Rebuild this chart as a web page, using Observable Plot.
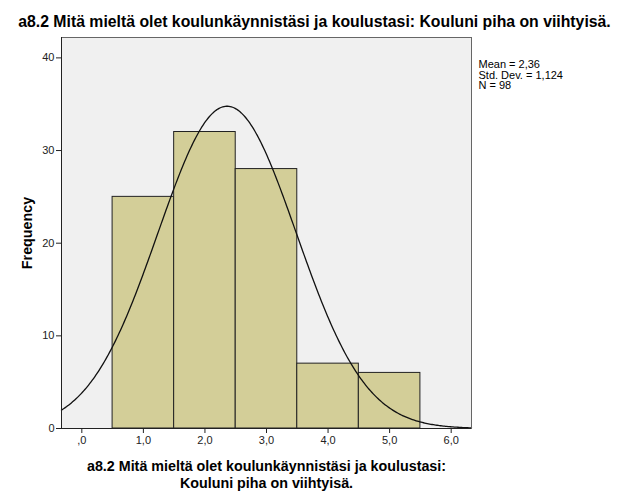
<!DOCTYPE html>
<html>
<head>
<meta charset="utf-8">
<script src="https://cdn.jsdelivr.net/npm/d3@7"></script>
<script src="https://cdn.jsdelivr.net/npm/@observablehq/plot@0.6"></script>
<style>
  html, body { margin: 0; padding: 0; background: white; }
  #title { box-sizing: content-box; height: 18px; line-height: 18px; padding-top: 13px; width: 629px;
    text-align: center; font-family: Arial, "Liberation Sans", sans-serif; font-weight: bold; font-size: 15.8px; color: #000; white-space: nowrap; }
</style>
</head>
<body>
<div id="title"></div>
<div id="chart"></div>
<script>
const chartTitle = "a8.2 Mitä mieltä olet koulunkäynnistäsi ja koulustasi: Kouluni piha on viihtyisä.";
const xTitleLines = ["a8.2 Mitä mieltä olet koulunkäynnistäsi ja koulustasi:", "Kouluni piha on viihtyisä."];
const yTitle = "Frequency";
const categories = [1, 2, 3, 4, 5];
const frequencies = [25, 32, 28, 7, 6];
const xTickValues = [0, 1, 2, 3, 4, 5, 6];
const xTickLabels = [",0", "1,0", "2,0", "3,0", "4,0", "5,0", "6,0"];
const yTickValues = [0, 10, 20, 30, 40];
const statsLabels = ["Mean = 2,36", "Std. Dev. = 1,124", "N = 98"];
const mean = 2.36, sd = 1.124, n = 98;

document.getElementById("title").textContent = chartTitle;

const bars = categories.map((v, i) => ({v, f: frequencies[i]}));
const xDomain = [-0.33, 6.33];
const curve = d3.range(xDomain[0], xDomain[1] + 0.001, 0.02).map(x => ({
  x, y: n * 1 * Math.exp(-0.5 * ((x - mean) / sd) ** 2) / (sd * Math.sqrt(2 * Math.PI))
}));

const plot = Plot.plot({
  width: 629, height: 473,
  marginTop: 6, marginBottom: 76, marginLeft: 61, marginRight: 158,
  style: {fontFamily: "Arial, 'Liberation Sans', sans-serif", fontSize: "11px", color: "#222", background: "white", overflow: "visible"},
  x: {domain: xDomain},
  y: {domain: [0, 42.2]},
  marks: [
    Plot.frame({fill: "#F0F0F0", stroke: null}),
    Plot.rectY(bars, {x1: d => d.v - 0.5, x2: d => d.v + 0.5, y1: 0, y2: "f", fill: "#D3CE98", stroke: "#222", strokeWidth: 1}),
    Plot.line(curve, {x: "x", y: "y", stroke: "#111", strokeWidth: 1.3}),
    Plot.frame({stroke: "#666"}),
    Plot.ruleY([0], {stroke: "#222"}),
    Plot.ruleX([xDomain[0]], {stroke: "#222"}),
    Plot.axisX({ticks: xTickValues, tickFormat: d => xTickLabels[xTickValues.indexOf(d)], tickSize: 5, tickPadding: 3, label: null, stroke: "#222"}),
    Plot.axisY({ticks: yTickValues, tickFormat: d => String(d), tickSize: 5, tickPadding: 2, label: null, stroke: "#222"}),
    Plot.text([xTitleLines[0]], {frameAnchor: "bottom", dy: 32.5, lineAnchor: "top", fontWeight: "bold", fontSize: 14.3, fill: "#000"}),
    Plot.text([xTitleLines[1]], {frameAnchor: "bottom", dy: 49, lineAnchor: "top", fontWeight: "bold", fontSize: 14.3, fill: "#000"}),
    Plot.text([yTitle], {frameAnchor: "left", textAnchor: "middle", rotate: -90, dx: -34, fontWeight: "bold", fontSize: 14.3, fill: "#000"}),
    Plot.text([statsLabels.join("\n")], {frameAnchor: "top-right", dx: 7, dy: 23, textAnchor: "start", lineAnchor: "top", lineHeight: 0.96, fontSize: 11, fill: "#000"})
  ]
});
document.getElementById("chart").appendChild(plot);
</script>
</body>
</html>
